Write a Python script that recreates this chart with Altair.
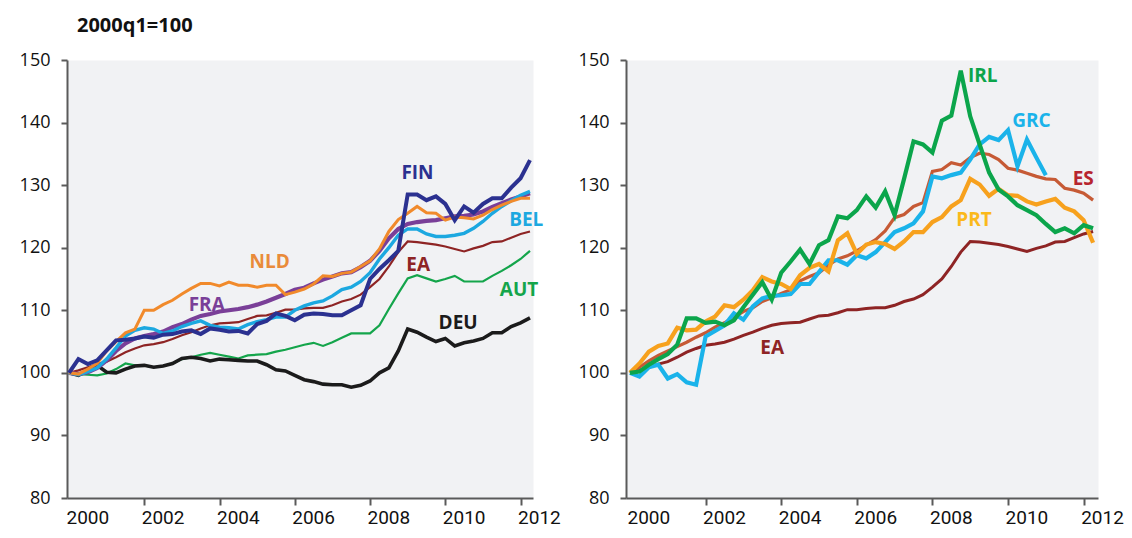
import altair as alt
import pandas as pd

# ---------------- data (quarterly, 2000q1 = 100) ----------------
START_YEAR = 2000
N_QUARTERS = 50  # 2000q1 .. 2012q2

DEU = [100.0, 99.6, 100.4, 101.2, 100.1, 100.0, 100.6, 101.1, 101.2, 100.9,
       101.1, 101.5, 102.3, 102.5, 102.3, 101.9, 102.2, 102.1, 102.0, 101.9,
       101.9, 101.3, 100.5, 100.3, 99.6, 98.9, 98.6, 98.2, 98.1, 98.1,
       97.7, 98.0, 98.7, 100.0, 100.8, 103.5, 107.0, 106.5, 105.7, 105.0,
       105.5, 104.3, 104.8, 105.1, 105.5, 106.4, 106.4, 107.4, 108.0, 108.8]
AUT = [100.0, 99.8, 99.7, 99.6, 99.9, 100.6, 101.5, 101.2, 101.2, 100.9,
       101.1, 101.5, 102.2, 102.5, 102.9, 103.2, 102.9, 102.6, 102.3, 102.8,
       102.9, 103.0, 103.4, 103.7, 104.1, 104.5, 104.8, 104.3, 104.9, 105.6,
       106.3, 106.3, 106.3, 107.6, 110.2, 112.7, 115.1, 115.6, 115.1, 114.6,
       115.0, 115.5, 114.6, 114.6, 114.6, 115.5, 116.3, 117.2, 118.2, 119.5]
EA = [100.0, 100.4, 100.9, 101.4, 101.8, 102.5, 103.3, 103.9, 104.4, 104.6,
      104.9, 105.4, 106.0, 106.5, 107.1, 107.6, 107.9, 108.0, 108.1, 108.6,
      109.1, 109.2, 109.6, 110.1, 110.1, 110.3, 110.4, 110.4, 110.8, 111.4,
      111.8, 112.5, 113.7, 115.0, 117.0, 119.3, 121.0, 120.9, 120.7, 120.5,
      120.2, 119.8, 119.4, 119.9, 120.3, 120.9, 121.0, 121.6, 122.2, 122.6]
FIN = [100.0, 102.2, 101.4, 102.0, 103.6, 105.2, 105.3, 105.5, 105.8, 105.6,
       106.1, 106.2, 106.6, 106.8, 106.2, 107.1, 106.9, 106.6, 106.7, 106.3,
       107.8, 108.3, 109.5, 109.1, 108.4, 109.3, 109.5, 109.4, 109.2, 109.2,
       110.0, 110.8, 115.0, 116.6, 118.0, 119.5, 128.5, 128.5, 127.6, 128.2,
       127.0, 124.4, 126.6, 125.6, 127.0, 127.9, 127.9, 129.6, 131.1, 134.0]
BEL = [100.0, 99.7, 100.2, 100.8, 102.2, 104.0, 105.9, 106.8, 107.2, 107.0,
       106.3, 106.7, 107.4, 107.9, 108.3, 107.6, 107.3, 107.2, 107.0, 107.7,
       108.2, 108.5, 108.9, 108.9, 110.0, 110.7, 111.2, 111.5, 112.3, 113.3,
       113.7, 114.6, 116.0, 118.2, 120.0, 122.0, 123.0, 123.0, 122.2, 121.8,
       121.8, 122.0, 122.3, 123.1, 124.2, 125.5, 126.6, 127.5, 128.4, 129.0]
FRA = [100.0, 99.8, 100.1, 100.8, 102.0, 103.5, 104.7, 105.5, 105.9, 106.2,
       106.6, 107.3, 107.8, 108.5, 109.1, 109.4, 109.8, 110.0, 110.2, 110.5,
       110.9, 111.4, 112.0, 112.6, 113.3, 113.6, 114.3, 114.9, 115.4, 115.9,
       116.1, 116.9, 117.9, 119.5, 121.5, 123.0, 123.8, 124.1, 124.3, 124.4,
       124.7, 125.0, 125.1, 125.3, 125.8, 126.5, 127.1, 127.7, 128.2, 128.7]
NLD = [100.0, 99.8, 100.6, 101.5, 103.5, 105.0, 106.4, 107.0, 110.0, 110.0,
       110.9, 111.6, 112.6, 113.5, 114.3, 114.3, 113.9, 114.5, 114.0, 114.0,
       113.7, 114.0, 114.0, 112.5, 112.9, 113.4, 114.2, 115.5, 115.4, 115.9,
       116.1, 117.0, 117.9, 119.8, 122.6, 124.5, 125.5, 126.6, 125.6, 125.5,
       124.4, 124.9, 124.8, 124.6, 125.2, 126.1, 126.8, 127.4, 127.9, 127.9]

IRL = [100.0, 100.2, 101.3, 102.2, 103.0, 104.5, 108.7, 108.7, 108.0, 108.2,
       107.6, 108.4, 110.5, 112.5, 114.5, 111.7, 116.0, 117.8, 119.7, 117.4,
       120.4, 121.2, 125.0, 124.7, 126.0, 128.2, 126.4, 129.0, 125.2, 131.0,
       137.0, 136.5, 135.2, 140.3, 141.1, 148.3, 141.0, 136.5, 132.0, 129.3,
       128.2, 126.8, 126.0, 125.2, 123.8, 122.5, 123.1, 122.3, 123.6, 123.1]
GRC = [100.0, 99.4, 100.9, 101.3, 99.1, 99.8, 98.5, 98.1, 105.8, 106.7,
       107.6, 109.5, 108.5, 110.6, 111.9, 112.3, 112.4, 112.6, 114.2, 114.2,
       116.1, 118.0, 118.0, 117.3, 118.8, 118.3, 119.3, 120.9, 122.5, 123.1,
       123.9, 125.8, 131.4, 131.1, 131.6, 132.0, 134.1, 136.5, 137.7, 137.2,
       138.8, 133.0, 137.3, 134.4, 131.6]
ES = [100.0, 100.9, 101.9, 102.8, 103.5, 104.2, 104.9, 105.7, 106.4, 107.3,
      108.0, 108.9, 109.8, 110.4, 111.4, 112.0, 112.7, 113.3, 114.7, 115.4,
      116.0, 117.2, 118.2, 118.7, 119.5, 120.4, 121.3, 122.7, 124.8, 125.3,
      126.6, 127.2, 132.2, 132.5, 133.6, 133.2, 134.4, 135.1, 134.9, 134.1,
      132.7, 132.4, 131.9, 131.4, 131.0, 130.9, 129.5, 129.2, 128.7, 127.6]
PRT = [100.0, 101.5, 103.4, 104.3, 104.7, 107.2, 106.8, 106.9, 108.2, 109.0,
       110.8, 110.5, 111.7, 113.2, 115.3, 114.6, 114.2, 113.4, 115.6, 116.8,
       117.4, 116.2, 121.2, 122.3, 119.0, 120.5, 120.9, 120.6, 119.8, 121.0,
       122.5, 122.5, 124.1, 124.9, 126.6, 127.6, 131.0, 130.1, 128.3, 129.4,
       128.4, 128.3, 127.4, 126.9, 127.4, 127.8, 126.4, 125.8, 124.4, 120.8]

YEAR_TICKS = [2002, 2004, 2006, 2008, 2010, 2012]
YEAR_LABELS = [2000, 2002, 2004, 2006, 2008, 2010, 2012]
Y_TICKS = [80, 90, 100, 110, 120, 130, 140, 150]

# series label annotations (name, year, value)
LEFT_LABEL_NAMES = ["FIN", "BEL", "NLD", "EA", "AUT", "FRA", "DEU"]
LEFT_LABEL_X = [2009.26, 2012.15, 2005.33, 2009.28, 2011.96, 2003.66, 2010.34]
LEFT_LABEL_Y = [131.9, 124.4, 117.7, 117.2, 113.2, 110.9, 108.0]
RIGHT_LABEL_NAMES = ["IRL", "GRC", "ES", "PRT", "EA"]
RIGHT_LABEL_X = [2009.33, 2010.62, 2011.99, 2009.10, 2003.76]
RIGHT_LABEL_Y = [147.4, 140.2, 131.0, 124.5, 103.9]

# ---------------- styles ----------------
LINE_STYLE = {
    "AUT": ("#14A54B", 2.2), "DEU": ("#1B1B1B", 3.6), "EA": ("#8E2424", 2.2),
    "FRA": ("#7A3F98", 4.2), "BEL": ("#1CA8E0", 3.4), "NLD": ("#F18A2B", 3.0),
    "FIN": ("#2B3190", 4.0),
    "EA_R": ("#8E2424", 3.0), "ES": ("#C65A35", 3.2), "GRC": ("#1AB3EA", 4.2),
    "PRT": ("#F7A11D", 4.2), "IRL": ("#0BA54B", 4.2),
}
LABEL_COLOR = {
    "FIN": "#2B3190", "BEL": "#1CA8E0", "NLD": "#E98B3A", "EA": "#8E2424",
    "AUT": "#14A54B", "FRA": "#7A3F98", "DEU": "#1B1B1B",
    "IRL": "#0BA54B", "GRC": "#1AB3EA", "ES": "#B7252F", "PRT": "#FBB91B",
}

AXIS_GREY = "#5a5a5a"
TICK_FONT = "Open Sans"
XLAB_FONT = "Roboto"
LABEL_FONT = "Open Sans"
H = 438


def make_panel(series, xdomain, width, label_names, label_x, label_y, y_extent):
    xscale = alt.Scale(domain=xdomain, nice=False, zero=False)
    yscale = alt.Scale(domain=[80, 150], nice=False, zero=False)
    xaxis = alt.Axis(values=YEAR_TICKS, labels=False, title=None, grid=False,
                     tickSize=7, tickWidth=2, tickColor=AXIS_GREY,
                     domainColor=AXIS_GREY, domainWidth=2)
    yaxis = alt.Axis(values=Y_TICKS, title=None, grid=False, tickSize=6,
                     tickWidth=2, tickColor=AXIS_GREY, domainColor=AXIS_GREY,
                     domainWidth=2, labelFont=TICK_FONT, labelFontSize=18,
                     labelColor="#111111", labelPadding=11, minExtent=y_extent)
    layers = []
    for key, values in series:
        color, sw = LINE_STYLE[key]
        df = pd.DataFrame({
            "t": [START_YEAR + i / 4 for i in range(len(values))],
            "v": values,
        })
        layers.append(
            alt.Chart(df).mark_line(color=color, strokeWidth=sw).encode(
                x=alt.X("t:Q", scale=xscale, axis=xaxis),
                y=alt.Y("v:Q", scale=yscale, axis=yaxis),
            )
        )

    ydf = pd.DataFrame({"t": [y + 0.5 for y in YEAR_LABELS],
                        "lab": [str(y) for y in YEAR_LABELS]})
    layers.append(
        alt.Chart(ydf).mark_text(font=XLAB_FONT, fontSize=19, color="#111111",
                                 baseline="alphabetic", align="center").encode(
            x=alt.X("t:Q", scale=xscale, axis=xaxis),
            y=alt.value(H + 26),
            text="lab:N",
        )
    )

    ldf = pd.DataFrame({"name": label_names, "t": label_x, "v": label_y})
    layers.append(
        alt.Chart(ldf).mark_text(font=LABEL_FONT, fontSize=19, fontWeight="bold",
                                 baseline="middle", align="center").encode(
            x=alt.X("t:Q", scale=xscale, axis=xaxis),
            y=alt.Y("v:Q", scale=yscale, axis=yaxis),
            text="name:N",
            color=alt.Color("name:N", legend=None,
                            scale=alt.Scale(domain=list(LABEL_COLOR.keys()),
                                            range=list(LABEL_COLOR.values()))),
        )
    )
    return alt.layer(*layers).properties(width=width, height=H)


left = make_panel(
    [("AUT", AUT), ("DEU", DEU), ("EA", EA), ("FRA", FRA), ("BEL", BEL),
     ("NLD", NLD), ("FIN", FIN)],
    [1999.947, 2012.33], 466,
    LEFT_LABEL_NAMES, LEFT_LABEL_X, LEFT_LABEL_Y, 52)

right = make_panel(
    [("EA_R", EA), ("ES", ES), ("GRC", GRC), ("PRT", PRT), ("IRL", IRL)],
    [1999.895, 2012.38], 472,
    RIGHT_LABEL_NAMES, RIGHT_LABEL_X, RIGHT_LABEL_Y, 50)

chart = alt.hconcat(left, right, spacing=93, bounds="flush").properties(
    title=alt.TitleParams("2000q1=100", anchor="start", dx=62, fontSize=20,
                          fontWeight="bold", font=LABEL_FONT, color="#111111",
                          offset=15, frame="bounds"),
    padding={"left": 7, "top": 8, "right": 0, "bottom": 0},
).configure_view(fill="#F1F2F4", strokeOpacity=0)

chart.save("out.html", embed_options={"renderer": "svg", "actions": False})
